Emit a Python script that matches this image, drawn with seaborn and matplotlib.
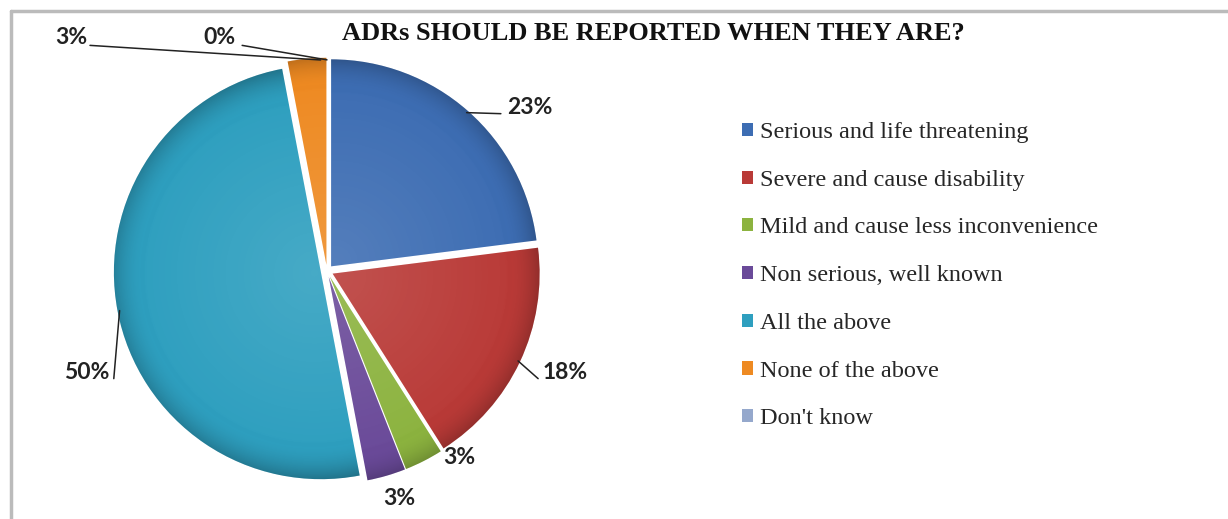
import numpy as np
import matplotlib
matplotlib.use("Agg")
import matplotlib.pyplot as plt
import seaborn as sns
from matplotlib.patches import Rectangle
from matplotlib.lines import Line2D

# ---- data ----
categories = ["Serious and life threatening", "Severe and cause disability",
              "Mild and cause less inconvenience", "Non serious, well known",
              "All the above", "None of the above", "Don't know"]
values = [23, 18, 3, 3, 50, 3, 0]
pct_labels = ["23%", "18%", "3%", "3%", "50%", "3%", "0%"]
title = "ADRs SHOULD BE REPORTED WHEN THEY ARE?"

# ---- style ----
colors = ["#3D6DB3", "#B93A37", "#8CB33F", "#6A4A99", "#2E9FBF", "#EE8A22", "#95A8CC"]
explode = [0.03, 0.03, 0.03, 0.03, 0.03, 0.03, 0.03]
# label text positions (data coords, pie centre at 0,0, radius 1) and alignment
label_pos = [(0.87, 0.79), (1.04, -0.49), (0.56, -0.90), (0.27, -1.10),
             (-1.05, -0.49), (-1.16, 1.13), (-0.44, 1.13)]
label_ha = ["left", "left", "left", "left", "right", "right", "right"]
# leader-line end point near the label (None => no leader)
leader_end = [(0.84, 0.76), (1.02, -0.52), None, None,
              (-1.03, -0.52), (-1.145, 1.09), (-0.41, 1.09)]
# where on the wedge arc the leader starts (fraction of wedge angle)
anchor_frac = [0.5, 0.5, 0.5, 0.5, 0.5, 0.15, 0.5]

sns.set_theme(style="white")
plt.rcParams['font.family'] = ['DejaVu Sans']

W, H = 1228, 519
fig = plt.figure(figsize=(W / 100, H / 100), dpi=100)
ax = fig.add_axes([0, 0, 1, 1])
ax.set_axis_off()

cx_px, cy_px, r_px = 327, 271, 207

wedges, _ = ax.pie(values, colors=colors, startangle=90, counterclock=False,
                   explode=explode, radius=1, center=(0, 0),
                   wedgeprops=dict(linewidth=0, edgecolor="none"))


def set_lims():
    ax.set_xlim(-cx_px / r_px, (W - cx_px) / r_px)
    ax.set_ylim(-(H - cy_px) / r_px, cy_px / r_px)
    ax.set_aspect("auto")


set_lims()

# soft bevel shading for each wedge
n = 600
xs = np.linspace(-1.2, 1.2, n)
X, Y = np.meshgrid(xs, xs[::-1])
for w in wedges:
    if w.theta2 - w.theta1 <= 0:
        continue
    c = np.array(w.center)
    R = np.hypot(X - c[0], Y - c[1])
    img = np.zeros((n, n, 4))
    rim = np.clip((R - 0.82) / 0.18, 0, 1) ** 2
    hi = np.clip(1 - R / 0.9, 0, 1) * 0.12
    img[..., :3] = np.where(rim[..., None] > 0, 0.0, 1.0)
    img[..., 3] = np.maximum(rim * 0.28, hi)
    im = ax.imshow(img, extent=(-1.2 + c[0], 1.2 + c[0], -1.2 + c[1], 1.2 + c[1]),
                   zorder=w.get_zorder() + 0.1, interpolation="bilinear")
    im.set_clip_path(w)
    set_lims()

# labels + leader lines
for w, lab, pos, ha, le, fr in zip(wedges, pct_labels, label_pos, label_ha,
                                   leader_end, anchor_frac):
    ang = np.deg2rad(w.theta1 + fr * (w.theta2 - w.theta1))
    c = np.array(w.center)
    edge = c + np.array([np.cos(ang), np.sin(ang)]) * 0.99
    ax.text(pos[0], pos[1], lab, ha=ha, va="center", fontsize=16.5,
            fontweight="bold", family="Lato", color="#222222", zorder=10)
    if le is not None:
        ax.plot([edge[0], le[0]], [edge[1], le[1]], color="#222222", lw=1.1, zorder=9)

# title
fig.text(653 / W, 1 - 34 / H, title, ha="center", va="center", fontsize=19,
         fontweight="bold", family="Liberation Serif", color="#111111")

# legend
handles = [Rectangle((0, 0), 1, 1, facecolor=col, edgecolor="none") for col in colors]
leg = fig.legend(handles, categories, loc="upper left",
                 bbox_to_anchor=(742 / W, 1 - 122 / H), frameon=False,
                 prop=dict(family="Liberation Serif", size=17.5),
                 handlelength=0.45, handleheight=0.45, handletextpad=0.3,
                 labelspacing=1.1, borderpad=0, borderaxespad=0)

# outer frame (top and left edges visible)
fig.add_artist(Line2D([11 / W, 1.0], [1 - 11 / H, 1 - 11 / H], transform=fig.transFigure,
                      color="#BBBBBB", lw=2.5))
fig.add_artist(Line2D([11 / W, 11 / W], [0, 1 - 11 / H], transform=fig.transFigure,
                      color="#BBBBBB", lw=2.5))

fig.savefig("out.png", dpi=100, facecolor="white")
